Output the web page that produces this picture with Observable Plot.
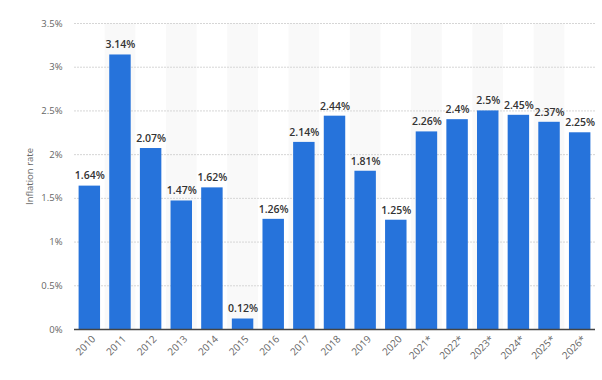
<!DOCTYPE html>
<html>
<head>
<meta charset="utf-8">
<script src="https://cdn.jsdelivr.net/npm/d3@7"></script>
<script src="https://cdn.jsdelivr.net/npm/@observablehq/plot@0.6"></script>
<style>
  html, body { margin: 0; padding: 0; background: #fff; }
  #chart svg { display: block; }
</style>
</head>
<body>
<div id="chart"></div>
<script>
const years = ["2010","2011","2012","2013","2014","2015","2016","2017","2018","2019","2020","2021*","2022*","2023*","2024*","2025*","2026*"];
const rates = [1.64, 3.14, 2.07, 1.47, 1.62, 0.12, 1.26, 2.14, 2.44, 1.81, 1.25, 2.26, 2.4, 2.5, 2.45, 2.37, 2.25];
const yTicks = [0, 0.5, 1, 1.5, 2, 2.5, 3, 3.5];
const yLabel = "Inflation rate";

const data = years.map((y, i) => ({year: y, rate: rates[i], idx: i}));
const shaded = data.filter(d => d.idx % 2 === 1);

const W = 602, H = 380, mL = 74, mR = 7, n = years.length;
const step = (W - mL - mR) / n;
const padIn = 0.3;
const extra = -(step * padIn) / 2;

const chart = Plot.plot({
  width: W,
  height: H,
  marginLeft: mL,
  marginRight: mR,
  marginTop: 23,
  marginBottom: 51,
  style: {fontFamily: "'Open Sans', sans-serif", background: "#fff"},
  x: {domain: years, paddingInner: padIn, paddingOuter: padIn / 2, round: false},
  y: {domain: [0, 3.5]},
  marks: [
    Plot.barY(shaded, {x: "year", y1: 0, y2: 3.5, fill: "#f9f9f9", insetLeft: extra, insetRight: extra}),
    Plot.gridY(yTicks, {stroke: "#d6d6d6", strokeOpacity: 1, strokeDasharray: "2,1"}),
    Plot.barY(data, {x: "year", y: "rate", fill: "#2673db"}),
    Plot.text(data, {x: "year", y: "rate", text: d => d.rate + "%", dy: -10, fill: "#333", fontSize: 10.5, fontWeight: 600}),
    Plot.ruleY([0], {stroke: "#444", strokeWidth: 1.5}),
    Plot.axisY(yTicks, {
      tickFormat: d => d + "%", tickSize: 0, tickPadding: 12, fill: "#666", fontSize: 9.5,
      label: yLabel, labelAnchor: "center", labelArrow: "none", labelOffset: 48
    }),
    Plot.axisX({tickSize: 0, tickRotate: -45, tickPadding: 8, dx: 4, fill: "#666", fontSize: 10, label: null})
  ]
});
document.getElementById("chart").appendChild(chart);
</script>
</body>
</html>
